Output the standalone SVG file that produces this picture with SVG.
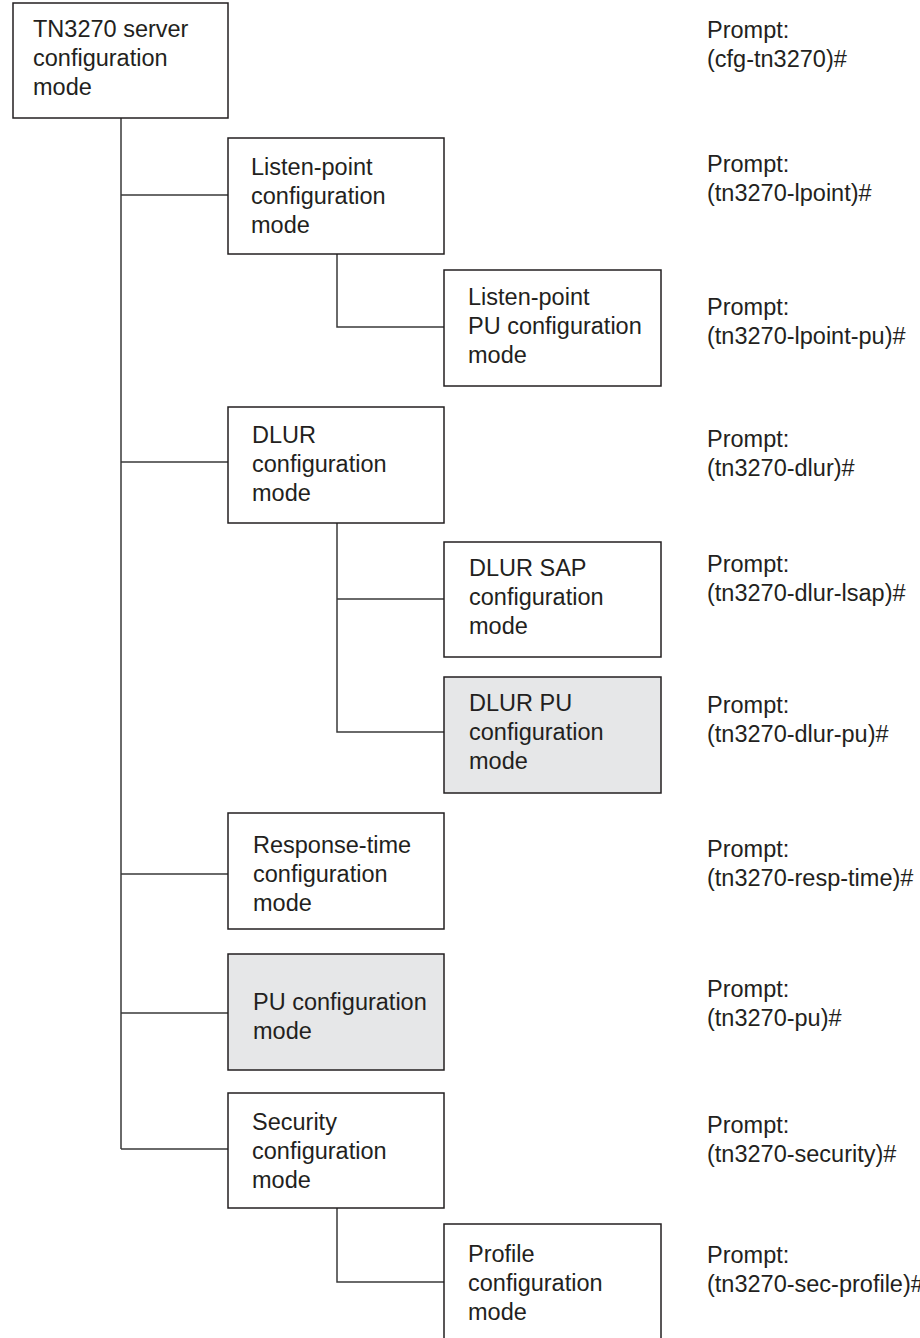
<svg xmlns="http://www.w3.org/2000/svg" width="920" height="1338" viewBox="0 0 920 1338">
<style>
.box{fill:#ffffff;stroke:#231f20;stroke-width:1.5}
.shade{fill:#e6e7e8;stroke:#231f20;stroke-width:1.5}
.t{font-family:"Liberation Sans",Arial,sans-serif;font-size:23.5px;fill:#231f20}
.c{fill:none;stroke:#3a3a3a;stroke-width:1.5}
</style>
<rect width="920" height="1338" fill="#ffffff"/>
<g id="connectors">
<path class="c" d="M121,118 V1149 M121,195 H228 M121,462 H228 M121,874 H228 M121,1013 H228 M121,1149 H228"/>
<path class="c" d="M337,254 V327 H444"/>
<path class="c" d="M337,523 V732 H444 M337,599 H444"/>
<path class="c" d="M337,1208 V1282 H444"/>
</g>
<g id="root">
<rect class="box" x="13" y="3" width="215" height="115"/>
<text class="t" x="33" y="37">TN3270 server</text>
<text class="t" x="33" y="66">configuration</text>
<text class="t" x="33" y="95">mode</text>
</g>
<g id="listen-point">
<rect class="box" x="228" y="138" width="216" height="116"/>
<text class="t" x="251" y="175">Listen-point</text>
<text class="t" x="251" y="204">configuration</text>
<text class="t" x="251" y="233">mode</text>
</g>
<g id="listen-point-pu">
<rect class="box" x="444" y="270" width="217" height="116"/>
<text class="t" x="468" y="305">Listen-point</text>
<text class="t" x="468" y="334">PU configuration</text>
<text class="t" x="468" y="363">mode</text>
</g>
<g id="dlur">
<rect class="box" x="228" y="407" width="216" height="116"/>
<text class="t" x="252" y="443">DLUR</text>
<text class="t" x="252" y="472">configuration</text>
<text class="t" x="252" y="501">mode</text>
</g>
<g id="dlur-sap">
<rect class="box" x="444" y="542" width="217" height="115"/>
<text class="t" x="469" y="576">DLUR SAP</text>
<text class="t" x="469" y="605">configuration</text>
<text class="t" x="469" y="634">mode</text>
</g>
<g id="dlur-pu">
<rect class="shade" x="444" y="677" width="217" height="116"/>
<text class="t" x="469" y="711">DLUR PU</text>
<text class="t" x="469" y="740">configuration</text>
<text class="t" x="469" y="769">mode</text>
</g>
<g id="response-time">
<rect class="box" x="228" y="813" width="216" height="116"/>
<text class="t" x="253" y="853">Response-time</text>
<text class="t" x="253" y="882">configuration</text>
<text class="t" x="253" y="911">mode</text>
</g>
<g id="pu">
<rect class="shade" x="228" y="954" width="216" height="116"/>
<text class="t" x="253" y="1010">PU configuration</text>
<text class="t" x="253" y="1039">mode</text>
</g>
<g id="security">
<rect class="box" x="228" y="1093" width="216" height="115"/>
<text class="t" x="252" y="1130">Security</text>
<text class="t" x="252" y="1159">configuration</text>
<text class="t" x="252" y="1188">mode</text>
</g>
<g id="profile">
<rect class="box" x="444" y="1224" width="217" height="120"/>
<text class="t" x="468" y="1262">Profile</text>
<text class="t" x="468" y="1291">configuration</text>
<text class="t" x="468" y="1320">mode</text>
</g>
<g id="prompts">
<text class="t" x="707" y="38">Prompt:</text>
<text class="t" x="707" y="67">(cfg-tn3270)#</text>
<text class="t" x="707" y="172">Prompt:</text>
<text class="t" x="707" y="201">(tn3270-lpoint)#</text>
<text class="t" x="707" y="315">Prompt:</text>
<text class="t" x="707" y="344">(tn3270-lpoint-pu)#</text>
<text class="t" x="707" y="447">Prompt:</text>
<text class="t" x="707" y="476">(tn3270-dlur)#</text>
<text class="t" x="707" y="572">Prompt:</text>
<text class="t" x="707" y="601">(tn3270-dlur-lsap)#</text>
<text class="t" x="707" y="713">Prompt:</text>
<text class="t" x="707" y="742">(tn3270-dlur-pu)#</text>
<text class="t" x="707" y="857">Prompt:</text>
<text class="t" x="707" y="886">(tn3270-resp-time)#</text>
<text class="t" x="707" y="997">Prompt:</text>
<text class="t" x="707" y="1026">(tn3270-pu)#</text>
<text class="t" x="707" y="1133">Prompt:</text>
<text class="t" x="707" y="1162">(tn3270-security)#</text>
<text class="t" x="707" y="1263">Prompt:</text>
<text class="t" x="707" y="1292">(tn3270-sec-profile)#</text>
</g>
</svg>
